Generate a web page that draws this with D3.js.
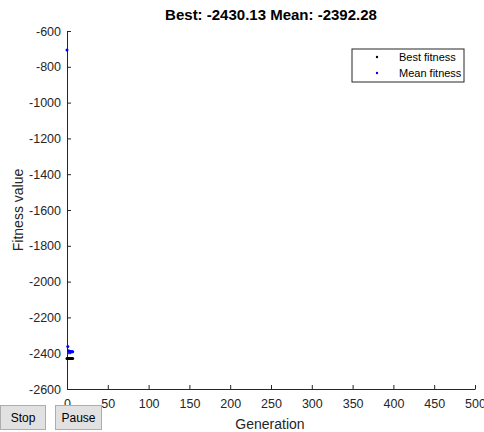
<!DOCTYPE html>
<html>
<head>
<meta charset="utf-8">
<script src="https://cdn.jsdelivr.net/npm/d3@7"></script>
<style>
  body { margin: 0; background: #fff; font-family: "Liberation Sans", Arial, sans-serif; }
  .btn { position: absolute; top: 405px; height: 25px; background: #e1e1e1; border: 1px solid #adadad;
         box-sizing: border-box; font: 12px "Liberation Sans", Arial, sans-serif; color: #000;
         display: flex; align-items: center; justify-content: center; }
</style>
</head>
<body>
<div id="chart"></div>
<div class="btn" style="left:0px;width:46px;">Stop</div>
<div class="btn" style="left:55px;width:47px;">Pause</div>
<script>
// generations and fitness values
var generations = [0, 1, 2, 3, 4, 5, 6, 7];
var bestFitness = [-2430, -2430, -2430, -2430, -2430, -2430, -2430, -2430.13];
var meanFitness = [-706, -2362, -2386, -2392, -2390, -2393, -2391, -2392.28];
var yTicks = [-600, -800, -1000, -1200, -1400, -1600, -1800, -2000, -2200, -2400, -2600];
var xTicks = [0, 50, 100, 150, 200, 250, 300, 350, 400, 450, 500];

const width = 484, height = 432;
const margin = { left: 67, right: 9, top: 31, bottom: 43 };

// plain hyphen minus, no thousands separator
const plain = d => String(d);

const svg = d3.select("#chart").append("svg")
    .attr("width", width)
    .attr("height", height)
    .style("position", "absolute")
    .style("left", 0).style("top", 0);

var x = d3.scaleLinear().domain([0, 500]).range([margin.left, width - margin.right]);
var y = d3.scaleLinear().domain([-2600, -600]).range([height - margin.bottom, margin.top]);

// axes, ticks pointing inward like matlab
var yAxis = svg.append("g")
    .attr("transform", "translate(" + margin.left + ",0)")
    .call(d3.axisLeft(y).tickValues(yTicks).tickFormat(plain).tickSizeInner(-4).tickSizeOuter(0).tickPadding(6));
var xAxis = svg.append("g")
    .attr("transform", "translate(0," + (height - margin.bottom) + ")")
    .call(d3.axisBottom(x).tickValues(xTicks).tickFormat(plain).tickSizeInner(-4).tickSizeOuter(0).tickPadding(10));

[xAxis, yAxis].forEach(function (a) {
    a.select(".domain").attr("stroke", "#262626");
    a.selectAll(".tick line").attr("stroke", "#262626");
    a.selectAll("text")
        .style("font-family", "Liberation Sans, Arial, sans-serif")
        .style("font-size", "12.5px")
        .attr("fill", "#262626");
});

// points
svg.append("g").selectAll("circle.best")
    .data(generations).enter()
    .append("circle")
    .attr("class", "best")
    .attr("cx", function (d) { return x(d); })
    .attr("cy", function (d, i) { return y(bestFitness[i]); })
    .attr("r", 1.5)
    .attr("fill", "#000");

svg.append("g").selectAll("circle.mean")
    .data(generations).enter()
    .append("circle")
    .attr("class", "mean")
    .attr("cx", function (d) { return x(d); })
    .attr("cy", function (d, i) { return y(meanFitness[i]); })
    .attr("r", 1.5)
    .attr("fill", "#0000ff");

// title
svg.append("text")
    .attr("x", 271)
    .attr("y", 20)
    .attr("text-anchor", "middle")
    .style("font-size", "15px")
    .style("font-weight", "bold")
    .attr("fill", "#000")
    .text("Best: " + bestFitness[bestFitness.length - 1].toFixed(2) +
          " Mean: " + meanFitness[meanFitness.length - 1].toFixed(2));

// axis labels
svg.append("text")
    .attr("x", 270)
    .attr("y", 429)
    .attr("text-anchor", "middle")
    .style("font-size", "14px")
    .attr("fill", "#262626")
    .text("Generation");

svg.append("text")
    .attr("transform", "translate(23," + 210 + ") rotate(-90)")
    .attr("text-anchor", "middle")
    .style("font-size", "14px")
    .attr("fill", "#262626")
    .text("Fitness value");

// legend
var legend = svg.append("g").attr("transform", "translate(352,49)");
legend.append("rect")
    .attr("width", 112).attr("height", 33)
    .attr("fill", "#fff").attr("stroke", "#262626").attr("stroke-width", 1);
var entries = [["Best fitness", "#000"], ["Mean fitness", "#0000ff"]];
entries.forEach(function (e, i) {
    legend.append("circle").attr("cx", 25).attr("cy", 8 + i * 16).attr("r", 1.2).attr("fill", e[1]);
    legend.append("text")
        .attr("x", 47).attr("y", 12 + i * 16)
        .style("font-size", "11px")
        .attr("fill", "#000")
        .text(e[0]);
});
</script>
</body>
</html>
